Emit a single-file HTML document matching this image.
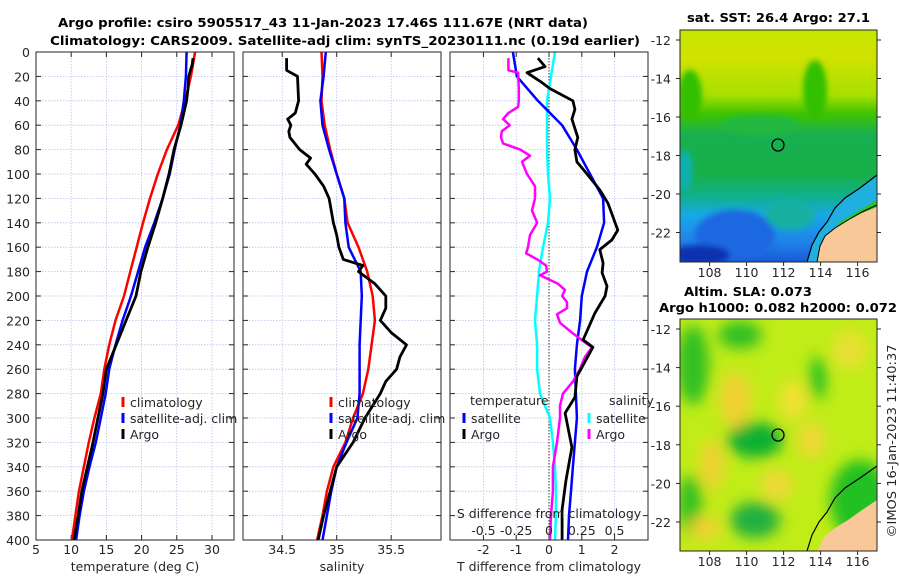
<!DOCTYPE html>
<html><head><meta charset="utf-8">
<style>
html,body{margin:0;padding:0;background:#fff;}
svg{display:block;font-family:"DejaVu Sans","Liberation Sans",sans-serif;}
.t{font-size:12.5px;fill:#262626;}
.b{font-size:12.5px;font-weight:bold;fill:#000;}
</style></head><body>
<svg id="fig" width="900" height="580" viewBox="0 0 900 580" xmlns="http://www.w3.org/2000/svg">
<defs>
<filter id="blur6"><feGaussianBlur stdDeviation="7"/></filter>
<filter id="blur3"><feGaussianBlur stdDeviation="3"/></filter>
<clipPath id="clipM1"><rect x="680" y="30" width="197" height="232"/></clipPath>
<clipPath id="clipM2"><rect x="680" y="319" width="197" height="232"/></clipPath>
<linearGradient id="sstGrad" x1="0" y1="0" x2="0" y2="1">
<stop offset="0" stop-color="#c4e600"/><stop offset="0.12" stop-color="#d0e200"/>
<stop offset="0.28" stop-color="#a8e000"/><stop offset="0.36" stop-color="#40c400"/>
<stop offset="0.45" stop-color="#18b050"/><stop offset="0.62" stop-color="#18b048"/>
<stop offset="0.72" stop-color="#10b090"/><stop offset="0.8" stop-color="#18a8e8"/>
<stop offset="0.92" stop-color="#2080e8"/><stop offset="1" stop-color="#1858d8"/>
</linearGradient>
</defs>
<g>
<text class="b" x="58" y="27" textLength="530" lengthAdjust="spacingAndGlyphs">Argo profile: csiro 5905517_43 11-Jan-2023 17.46S 111.67E (NRT data)</text>
<text class="b" x="50" y="45" textLength="590" lengthAdjust="spacingAndGlyphs">Climatology: CARS2009. Satellite-adj clim: synTS_20230111.nc (0.19d earlier)</text>
</g>
<g id="panels"></g>

<!-- Map 1: SST -->
<g>
<text class="b" x="687" y="22" textLength="183" lengthAdjust="spacingAndGlyphs">sat. SST: 26.4 Argo: 27.1</text>
<g clip-path="url(#clipM1)">
<rect x="680" y="30" width="197" height="232" fill="url(#sstGrad)"/>
<g filter="url(#blur3)">
<ellipse cx="690" cy="95" rx="12" ry="25" fill="#30c000"/>
<ellipse cx="815" cy="90" rx="12" ry="30" fill="#30c000"/>
<ellipse cx="760" cy="125" rx="40" ry="10" fill="#20b840"/>
<ellipse cx="735" cy="235" rx="40" ry="25" fill="#1c68e0"/>
<ellipse cx="700" cy="255" rx="30" ry="10" fill="#1030b0"/>
<ellipse cx="790" cy="215" rx="25" ry="15" fill="#18b0a0"/>
<ellipse cx="685" cy="170" rx="8" ry="20" fill="#10b0b0"/>
</g>
<path d="M877,175 L860,188 L845,198 L835,208 L827,222 L819,232 L812,245 L807,262 L877,262 Z" fill="#20b0e0"/>
<path d="M877,200 L860,210 L840,222 L832,235 L822,250 L820,262 L877,262Z" fill="#30c020"/>
<path d="M877,207 L862,213 L848,220 L835,228 L825,236 L820,246 L817,262 L877,262 Z" fill="#f8c898"/>
<path d="M877,175 L860,188 L845,198 L835,208 L827,222 L819,232 L812,245 L807,262" fill="none" stroke="#000" stroke-width="1.2"/>
<path d="M877,205 L862,212 L848,220 L835,228 L825,236 L820,246 L817,262" fill="none" stroke="#000" stroke-width="1"/>
</g>
<rect x="680" y="30" width="197" height="232" fill="none" stroke="#262626"/>
<circle cx="778" cy="145" r="6" fill="none" stroke="#000" stroke-width="1.3"/>
<g id="m1ticks"></g>
</g>

<!-- Map 2: SLA -->
<g>
<text class="b" x="684" y="296" textLength="128" lengthAdjust="spacingAndGlyphs">Altim. SLA: 0.073</text>
<text class="b" x="659" y="312" textLength="238" lengthAdjust="spacingAndGlyphs">Argo h1000: 0.082 h2000: 0.072</text>
<g clip-path="url(#clipM2)">
<rect x="680" y="319" width="197" height="232" fill="#c0ec18"/>
<g filter="url(#blur6)">
<ellipse cx="693" cy="365" rx="16" ry="40" fill="#30c020"/>
<ellipse cx="740" cy="335" rx="22" ry="14" fill="#30c020"/>
<ellipse cx="818" cy="378" rx="8" ry="22" fill="#20c020"/>
<ellipse cx="755" cy="440" rx="28" ry="18" fill="#10b030"/>
<ellipse cx="690" cy="505" rx="12" ry="30" fill="#30c020"/>
<ellipse cx="755" cy="520" rx="25" ry="18" fill="#20b040"/>
<ellipse cx="860" cy="500" rx="30" ry="40" fill="#20c020"/>
<ellipse cx="735" cy="400" rx="16" ry="28" fill="#f0d030"/>
<ellipse cx="793" cy="400" rx="14" ry="20" fill="#f0e030"/>
<ellipse cx="812" cy="440" rx="14" ry="18" fill="#f0d838"/>
<ellipse cx="712" cy="465" rx="12" ry="25" fill="#f0d030"/>
<ellipse cx="777" cy="485" rx="16" ry="15" fill="#f0d838"/>
<ellipse cx="705" cy="528" rx="16" ry="12" fill="#f0d030"/>
<ellipse cx="850" cy="350" rx="18" ry="20" fill="#e8e030"/>
</g>
<path d="M877,500 L862,510 L848,520 L835,528 L825,536 L820,546 L817,551 L877,551 Z" fill="#f8c898"/>
<path d="M877,466 L860,478 L845,488 L835,498 L827,512 L819,522 L812,535 L807,551" fill="none" stroke="#000" stroke-width="1.2"/>
</g>
<rect x="680" y="319" width="197" height="232" fill="none" stroke="#262626"/>
<circle cx="778" cy="435" r="6" fill="none" stroke="#000" stroke-width="1.3"/>
<g id="m2ticks"></g>
</g>
<text class="t" x="0" y="0" transform="translate(896,441) rotate(-90)" text-anchor="middle" textLength="193" lengthAdjust="spacingAndGlyphs">©IMOS 16-Jan-2023 11:40:37</text>
</svg>
<script>
// ---- data ----
const depths = [0,20,40,60,80,100,120,140,160,180,200,220,240,260,280,300,320,340,360,380,400];
const tempClim = [27.6,27.0,26.2,25.2,23.6,22.3,21.2,20.2,19.3,18.4,17.5,16.3,15.4,14.7,14.2,13.3,12.5,11.8,11.1,10.6,10.1];
const tempSat  = [26.4,26.3,26.0,25.5,24.7,24.0,23.0,21.8,20.5,19.5,18.5,17.3,16.3,15.4,14.9,14.2,13.5,12.6,11.8,11.2,10.7];
const argoTDepth = [5,10,20,30,40,50,60,70,80,100,120,140,160,180,200,220,240,260,280,300,320,340,360,380,400];
const tempArgo = [27.3,27.2,26.7,26.6,26.4,26.0,25.6,25.1,24.6,23.9,23.0,22.0,20.9,19.9,19.2,17.8,16.4,15.0,14.5,13.8,13.1,12.3,11.5,11.0,10.4];
const salClim = [34.86,34.87,34.86,34.89,34.94,35.00,35.07,35.10,35.20,35.28,35.33,35.35,35.32,35.29,35.24,35.15,35.08,34.97,34.91,34.87,34.82];
const salSat  = [34.90,34.88,34.85,34.87,34.93,35.00,35.07,35.08,35.11,35.22,35.23,35.22,35.21,35.21,35.21,35.19,35.09,35.00,34.95,34.91,34.87];
const argoSDepth = [5,15,20,40,50,55,60,65,70,80,87,92,100,110,120,140,150,160,170,175,180,190,200,210,220,230,240,250,260,270,280,300,320,340,360,380,400];
const salArgo = [34.54,34.54,34.64,34.65,34.62,34.55,34.58,34.56,34.57,34.66,34.76,34.72,34.80,34.88,34.93,34.97,35.00,35.02,35.06,35.24,35.20,35.35,35.45,35.45,35.40,35.50,35.64,35.58,35.55,35.45,35.40,35.26,35.15,35.00,34.94,34.88,34.83];
const tDiffSat = [-1.10,-0.98,-0.34,0.40,0.85,1.25,1.65,1.68,1.46,1.16,1.00,0.95,0.85,0.79,0.82,0.85,0.79,0.73,0.67,0.61,0.58];
const argoTdDepth = [5,12,17,24,30,40,47,55,70,80,90,100,113,124,135,146,154,162,173,181,192,200,214,236,242,266,283,296,324,351,375,400];
const tDiffArgo = [-0.34,-0.12,-0.67,-0.27,0.03,0.73,0.79,0.70,0.88,0.79,0.85,1.16,1.55,1.80,1.95,2.10,1.92,1.55,1.65,1.62,1.77,1.71,1.40,1.04,1.34,0.85,0.79,0.49,0.70,0.52,0.40,0.40];
const sDiffSat = [0.046,0.015,-0.015,-0.015,-0.015,-0.008,0.008,-0.008,-0.046,-0.076,-0.091,-0.107,-0.091,-0.091,-0.069,0.008,0.030,0.046,0.053,0.053,0.046];
const argoSdDepth = [5,15,17,30,40,45,50,55,60,65,70,75,80,85,90,100,110,120,130,140,150,160,165,170,175,180,183,190,195,200,205,210,215,222,230,238,242,250,260,270,280,290,300,320,340,360,380,400];
const sDiffArgo = [-0.31,-0.31,-0.236,-0.23,-0.23,-0.236,-0.31,-0.35,-0.30,-0.36,-0.366,-0.35,-0.22,-0.145,-0.206,-0.168,-0.107,-0.107,-0.13,-0.09,-0.145,-0.16,-0.175,-0.09,-0.023,-0.015,-0.069,0.069,0.122,0.10,0.137,0.137,0.061,0.084,0.175,0.274,0.328,0.274,0.236,0.183,0.107,0.084,0.084,0.061,0.030,0.030,0.015,0.008];
const depthTicks = [0,20,40,60,80,100,120,140,160,180,200,220,240,260,280,300,320,340,360,380,400];
const tTicks = [5,10,15,20,25,30];
const sTicks = [34.5,35,35.5];
const tdTicks = [-2,-1,0,1,2];
const sdTicks = [-0.5,-0.25,0,0.25,0.5];
const lonTicks = [108,110,112,114,116];
const latTicks = [-12,-14,-16,-18,-20,-22];

// ---- scales ----
const Y0=52, Y1=540;
const yD = d => Y0 + d*(Y1-Y0)/400;
const P1={x0:36,x1:234}, P2={x0:243,x1:441}, P3={x0:450,x1:648};
const xT = v => P1.x0 + (v-5)*(P1.x1-P1.x0)/(33.13-5);
const xS = v => P2.x0 + (v-34.14)*(P2.x1-P2.x0)/(35.957-34.14);
const xTd = v => P3.x0 + (v+3.02)*(P3.x1-P3.x0)/6.04;
const xSd = v => xTd(v*4);
const NS="http://www.w3.org/2000/svg";
const root=document.getElementById('panels');
function mk(tag,attrs,parent){const e=document.createElementNS(NS,tag);for(const k in attrs)e.setAttribute(k,attrs[k]);(parent||root).appendChild(e);return e;}
function line(xs,ds,xf,color,w,name){
  let d='';
  for(let i=0;i<xs.length;i++){d+=(i?'L':'M')+xf(xs[i]).toFixed(1)+','+yD(ds[i]).toFixed(1);}
  const p=mk('path',{d:d,fill:'none',stroke:color,'stroke-width':w,'stroke-linejoin':'round'});
  
  
  return p;
}
function text(x,y,s,anchor,cls,name){
  const t=mk('text',{x:x,y:y,'text-anchor':anchor||'start',class:cls||'t'});
  t.textContent=s;
  
  
  return t;
}
function panelFrame(P,ticks,xf,name){
  const g=mk('g',{});
  
  
  mk('rect',{x:P.x0,y:Y0,width:P.x1-P.x0,height:Y1-Y0,fill:'#fff'},g);
  depthTicks.forEach(d=>{ if(d>0&&d<400) mk('line',{x1:P.x0,x2:P.x1,y1:yD(d),y2:yD(d),stroke:'#b8c4e8','stroke-width':0.8,'stroke-dasharray':'1.5,1.5'},g);
    mk('line',{x1:P.x0,x2:P.x0+5,y1:yD(d),y2:yD(d),stroke:'#262626'},g);
    mk('line',{x1:P.x1-5,x2:P.x1,y1:yD(d),y2:yD(d),stroke:'#262626'},g);});
  ticks.forEach(v=>{const x=xf(v); if(x>P.x0+1&&x<P.x1-1) mk('line',{x1:x,x2:x,y1:Y0,y2:Y1,stroke:'#b8c4e8','stroke-width':0.8,'stroke-dasharray':'1.5,1.5'},g);
    mk('line',{x1:x,x2:x,y1:Y1,y2:Y1-5,stroke:'#262626'},g);mk('line',{x1:x,x2:x,y1:Y0,y2:Y0+5,stroke:'#262626'},g);});
  return g;
}
function frameBorder(P,name){
  const r=mk('rect',{x:P.x0,y:Y0,width:P.x1-P.x0,height:Y1-Y0,fill:'none',stroke:'#262626','stroke-width':1});
  
  
}
function legendEntry(x,y,color,label,name){
  const m=mk('line',{x1:x,x2:x,y1:y-10,y2:y,stroke:color,'stroke-width':3});
  
  
  text(x+7,y,label,'start','t',name);
}

// Panel 1
panelFrame(P1,tTicks,xT,'temperature-panel');
line(tempClim,depths,xT,'#ff0000',2.5,'temp-climatology-line');
line(tempSat,depths,xT,'#0000ff',2.5,'temp-satellite-line');
line(tempArgo,argoTDepth,xT,'#000',2.8,'temp-argo-line');
frameBorder(P1,'temperature-panel-frame');
depthTicks.forEach(d=>text(30,yD(d)+5,String(d),'end','t','depth-tick-label'));
tTicks.forEach(v=>text(xT(v),554,String(v),'middle','t','temp-tick-label'));
text(135,571,'temperature (deg C)','middle','t','temp-axis-title');
legendEntry(123,407,'#ff0000','climatology','legend-climatology');
legendEntry(123,423,'#0000ff','satellite-adj. clim','legend-satellite-adj');
legendEntry(123,439,'#000','Argo','legend-argo');

// Panel 2
panelFrame(P2,sTicks,xS,'salinity-panel');
line(salClim,depths,xS,'#ff0000',2.5,'sal-climatology-line');
line(salSat,depths,xS,'#0000ff',2.5,'sal-satellite-line');
line(salArgo,argoSDepth,xS,'#000',2.8,'sal-argo-line');
frameBorder(P2,'salinity-panel-frame');
sTicks.forEach(v=>text(xS(v),554,String(v),'middle','t','sal-tick-label'));
text(342,571,'salinity','middle','t','sal-axis-title');
legendEntry(331,407,'#ff0000','climatology','legend2-climatology');
legendEntry(331,423,'#0000ff','satellite-adj. clim','legend2-satellite-adj');
legendEntry(331,439,'#000','Argo','legend2-argo');

// Panel 3
panelFrame(P3,tdTicks,xTd,'difference-panel');
const zl=mk('line',{x1:xTd(0),x2:xTd(0),y1:Y0,y2:Y1,stroke:'#333','stroke-width':1,'stroke-dasharray':'1.5,1.5'});


line(sDiffSat,depths,xSd,'#00ffff',2.5,'sdiff-satellite-line');
line(tDiffSat,depths,xTd,'#0000ff',2.5,'tdiff-satellite-line');
line(sDiffArgo,argoSdDepth,xSd,'#ff00ff',2.5,'sdiff-argo-line');
line(tDiffArgo,argoTdDepth,xTd,'#000',2.8,'tdiff-argo-line');
frameBorder(P3,'difference-panel-frame');
tdTicks.forEach(v=>text(xTd(v),554,String(v),'middle','t','tdiff-tick-label'));
text(549,571,'T difference from climatology','middle','t','tdiff-axis-title');
text(549,518,'S difference from climatology','middle','t','sdiff-axis-title');
sdTicks.forEach(v=>text(xSd(v),535,String(v),'middle','t','sdiff-tick-label'));
text(470,405,'temperature','start','t','legend3-temperature-header');
legendEntry(464,423,'#0000ff','satellite','legend3-t-satellite');
legendEntry(464,439,'#000','Argo','legend3-t-argo');
text(609,405,'salinity','start','t','legend3-salinity-header');
legendEntry(589,423,'#00ffff','satellite','legend3-s-satellite');
legendEntry(589,439,'#ff00ff','Argo','legend3-s-argo');

// Map ticks
function mapTicks(gid,top,bot,latY){
  const g=document.getElementById(gid);
  lonTicks.forEach(v=>{const x=680+(v-106.4)*18.5;
    mk('line',{x1:x,x2:x,y1:bot,y2:bot+4,stroke:'#262626'},g);
    const t=mk('text',{x:x,y:bot+15,'text-anchor':'middle',class:'t'},g);t.textContent=String(v);
    
    });
  latTicks.forEach(v=>{const y=latY(v);
    mk('line',{x1:676,x2:680,y1:y,y2:y,stroke:'#262626'},g);
    mk('line',{x1:877,x2:881,y1:y,y2:y,stroke:'#262626'},g);
    const t=mk('text',{x:671,y:y+5,'text-anchor':'end',class:'t'},g);t.textContent=String(v);
    
    });
}
mapTicks('m1ticks',30,262,v=>40+(-12-v)*19.25);
mapTicks('m2ticks',319,551,v=>329+(-12-v)*19.3);
</script>
</body></html>
